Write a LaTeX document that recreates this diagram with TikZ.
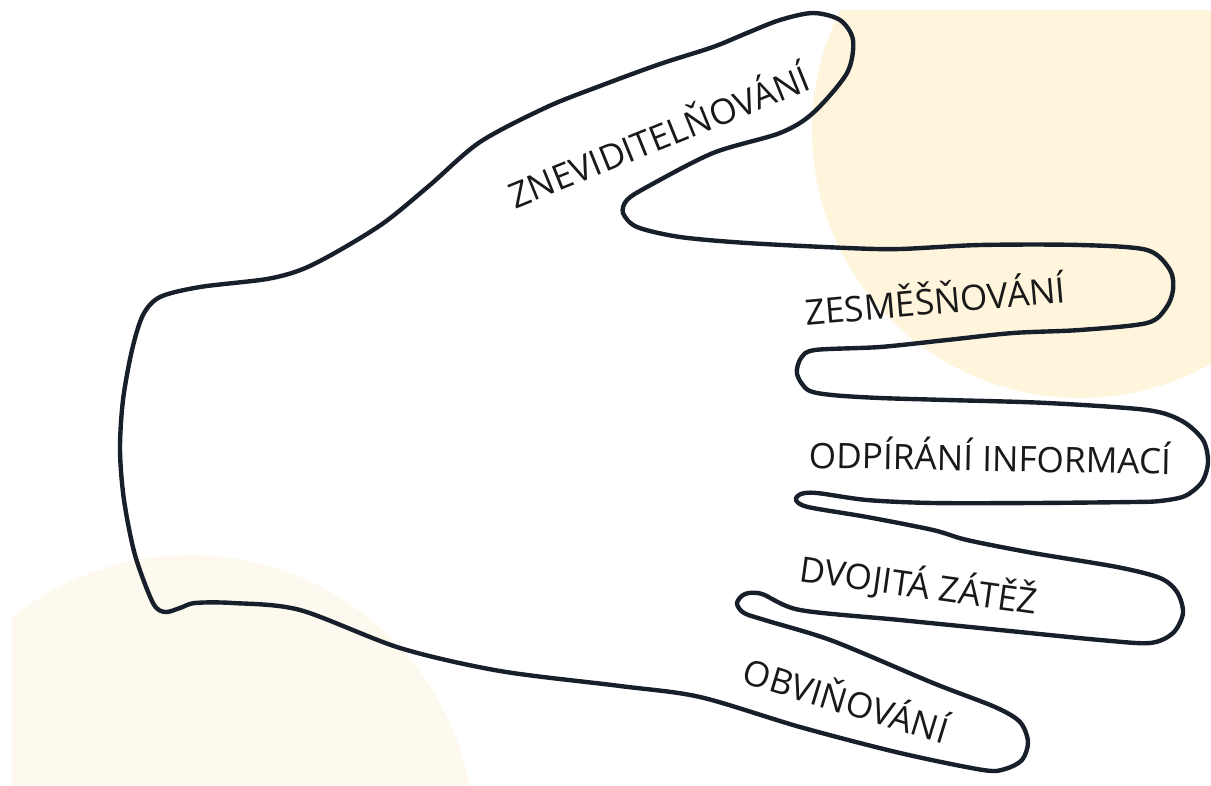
\documentclass[tikz,border=0pt]{standalone}
\usepackage{fontspec}
\setmainfont{Open Sans}
\definecolor{handline}{HTML}{17202A}
\definecolor{sunup}{HTML}{FEF5DC}
\definecolor{sundown}{HTML}{FEF9EE}
\tikzset{fingertext/.style={font=\fontsize{20}{24}\selectfont,text=black!90,inner sep=0pt}}
\begin{document}
\begin{tikzpicture}[x=0.02cm,y=-0.02cm]
	\useasboundingbox (0,0) rectangle (1211,785);
	% two pale suns behind the hand
	\begin{scope}
		\clip (12,10) rectangle (1211,785);
		\fill[sunup] (1080,130) circle (5.36cm);
		\fill[sundown] (190,840) circle (5.7cm);
	\end{scope}
	% outline of the hand
	\draw[handline,line width=2.5pt,line join=round] plot[smooth cycle] coordinates {
		(160,297) (200,287) (267,279) (303,269) (340,250) (385,222) (430,185) (480,142)
		(547,107) (600,86) (660,64) (713,47) (747,33) (780,20) (813,13)
		(840,20) (853,40) (847,73) (813,113) (780,133) (713,153) (647,187) (627,200)
		(623,213) (637,227) (680,237) (747,243) (847,248) (900,249) (980,245) (1080,245)
		(1147,250) (1170,270) (1173,290) (1166,308) (1147,323) (1080,330) (1013,333) (947,340)
		(880,347) (815,350) (801,358) (797,374) (808,390) (832,395) (880,398) (947,400)
		(1047,403) (1147,410) (1182,421) (1203,440) (1208,462) (1202,482) (1185,496) (1160,501)
		(1133,502) (1033,503) (933,503) (867,500) (817,493) (801,494) (796,500) (808,507)
		(867,517) (933,530) (967,540) (1033,553) (1117,567) (1160,578) (1177,592) (1183,613)
		(1173,633) (1150,643) (1100,640) (1000,630) (900,620) (800,610) (762,594) (745,594)
		(737,603) (744,613) (768,621) (833,641) (933,683) (995,707) (1020,722) (1028,742)
		(1022,760) (1005,769) (983,770) (900,753) (800,727) (700,697) (620,686) (500,671)
		(400,648) (300,610) (233,603) (195,603) (180,608) (165,612) (153,603)
		(135,555) (124,500) (120,450) (123,400) (132,350) (143,315)};
	% one word per finger
	\node[fingertext,rotate=22] (zneviditelnovani) at (658,134) {ZNEVIDITELŇOVÁNÍ};
	\node[fingertext,rotate=5] (zesmesnovani) at (935,298) {ZESMĚŠŇOVÁNÍ};
	\node[fingertext,rotate=-1] (odpirani) at (990,455) {ODPÍRÁNÍ INFORMACÍ};
	\node[fingertext,rotate=-8] (zatez) at (919,585) {DVOJITÁ ZÁTĚŽ};
	\node[fingertext,rotate=-17] (obvinovani) at (847,698) {OBVIŇOVÁNÍ};
\end{tikzpicture}
\end{document}
